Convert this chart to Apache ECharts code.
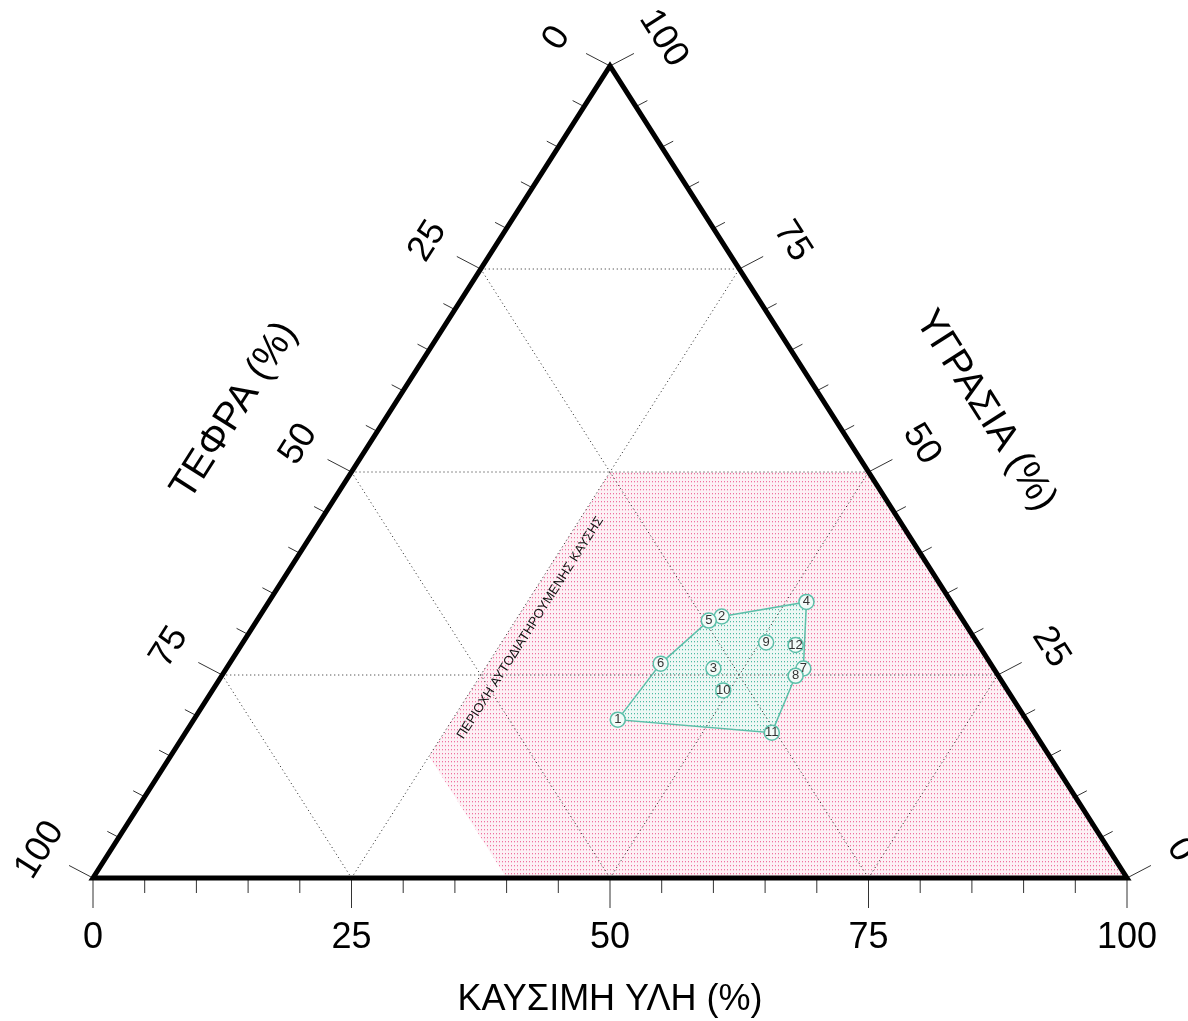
<!DOCTYPE html>
<html>
<head>
<meta charset="utf-8">
<title>Τριγωνικό διάγραμμα</title>
<script src="https://cdn.jsdelivr.net/npm/echarts@6/dist/echarts.min.js"></script>
<style>
  html, body { margin: 0; padding: 0; background: #fff; }
  #chart { width: 1188px; height: 1021px; }
</style>
</head>
<body>
<div id="chart"></div>
<script>
// ticks on every side, every 5 %
var tickValues = [0, 5, 10, 15, 20, 25, 30, 35, 40, 45, 50, 55, 60, 65, 70, 75, 80, 85, 90, 95, 100];
var labelValues = [0, 25, 50, 75, 100];
var gridValues = [25, 50, 75];

// samples (%) : καύσιμη ύλη, τέφρα, υγρασία
var sampleNo = [1, 2, 3, 4, 5, 6, 7, 8, 9, 10, 11, 12];
var kaysimi = [41.0, 44.7, 47.1, 52.0, 43.7, 41.7, 55.8, 55.5, 50.6, 49.4, 56.7, 53.6];
var tefra   = [39.5, 23.1, 27.1, 14.0, 24.6, 31.9, 18.4, 19.6, 20.4, 27.5, 25.4, 17.7];
var ygrasia = [19.5, 32.2, 25.8, 34.0, 31.7, 26.4, 25.8, 24.9, 29.0, 23.1, 17.9, 28.7];
var hullOrder = [1, 6, 5, 2, 4, 7, 8, 11];

// περιοχή αυτοδιατηρούμενης καύσης (K > 25, T < 60, Y < 50)
var regionK = [25, 50, 100, 40, 25];
var regionY = [50, 50, 0, 0, 15];
var regionLabelK = 26.9;
var regionLabelY = 30.8;

var FONT = '"Liberation Sans", Arial, sans-serif';
var ROT = 57.5 * Math.PI / 180;
// outward directions of the three sides (bottom, left, right)
var DIRS = [[0, 1], [-0.886, -0.464], [0.886, -0.464]];

function toXY(k, y) {
  return [k + y / 2, y];
}

// point on a side for a value of that side's own scale
function sidePoint(side, v) {
  if (side === 0) return toXY(v, 0);          // καύσιμη ύλη
  if (side === 1) return toXY(0, 100 - v);    // τέφρα
  return toXY(100 - v, v);                    // υγρασία
}

// small dot pattern, 3x4 px, on a tinted background
function dotPattern(dot, halo, bg) {
  var c = document.createElement('canvas');
  c.width = 3; c.height = 4;
  var ctx = c.getContext('2d');
  ctx.fillStyle = bg; ctx.fillRect(0, 0, 3, 4);
  ctx.fillStyle = dot; ctx.fillRect(1, 1, 1, 1);
  ctx.fillStyle = halo; ctx.fillRect(1, 2, 1, 1);
  return { image: c, repeat: 'repeat' };
}

var pinkFill = dotPattern('#f0709f', '#f8c8d9', '#fdf1f5');
var greenFill = dotPattern('#4fb9a2', '#bfe6dc', '#eef8f5');

// grid lines: [family, value]
var gridItems = [];
gridValues.forEach(function (v) {
  gridItems.push([0, v], [1, v], [2, v]);
});

var tickItems = [];
[0, 1, 2].forEach(function (s) {
  tickValues.forEach(function (v) { tickItems.push([s, v]); });
});

var labelItems = [];
[0, 1, 2].forEach(function (s) {
  labelValues.forEach(function (v) { labelItems.push([s, v]); });
});

var scatterData = sampleNo.map(function (n, i) {
  var p = toXY(kaysimi[i], ygrasia[i]);
  return [p[0], p[1], n];
});

var chart = echarts.init(document.getElementById('chart'));

chart.setOption({
  animation: false,
  backgroundColor: '#fff',
  grid: { left: 93, top: 66, width: 1034, height: 812 },
  xAxis: { type: 'value', min: 0, max: 100, show: false },
  yAxis: { type: 'value', min: 0, max: 100, show: false },
  series: [
    {
      // pink region
      type: 'custom', z: 1, silent: true,
      data: [[0]],
      renderItem: function (params, api) {
        var pts = regionK.map(function (k, i) { return api.coord(toXY(k, regionY[i])); });
        return { type: 'polygon', shape: { points: pts }, style: { fill: pinkFill, stroke: null } };
      }
    },
    {
      // sample hull
      type: 'custom', z: 2, silent: true,
      data: [[0]],
      renderItem: function (params, api) {
        var pts = hullOrder.map(function (n) {
          var i = sampleNo.indexOf(n);
          return api.coord(toXY(kaysimi[i], ygrasia[i]));
        });
        return { type: 'polygon', shape: { points: pts }, style: { fill: greenFill, stroke: '#5cbfa9', lineWidth: 1.5 } };
      }
    },
    {
      // dotted grid
      type: 'custom', z: 3, silent: true,
      data: gridItems,
      renderItem: function (params, api) {
        var f = api.value(0), v = api.value(1), a, b;
        if (f === 0) { a = toXY(0, v); b = toXY(100 - v, v); }
        else if (f === 1) { a = toXY(v, 0); b = toXY(v, 100 - v); }
        else { a = toXY(0, 100 - v); b = toXY(100 - v, 0); }
        var p1 = api.coord(a), p2 = api.coord(b);
        return {
          type: 'line',
          shape: { x1: p1[0], y1: p1[1], x2: p2[0], y2: p2[1] },
          style: { stroke: '#222', lineWidth: 1, lineDash: [1, 3] }
        };
      }
    },
    {
      // region label
      type: 'custom', z: 4, silent: true,
      data: [[0]],
      renderItem: function (params, api) {
        var p = api.coord(toXY(regionLabelK, regionLabelY));
        return {
          type: 'text', x: p[0], y: p[1], rotation: ROT,
          style: { text: 'ΠΕΡΙΟΧΗ ΑΥΤΟΔΙΑΤΗΡΟΥΜΕΝΗΣ ΚΑΥΣΗΣ', fontSize: 13, fontFamily: FONT, fill: '#111', align: 'center', verticalAlign: 'middle' }
        };
      }
    },
    {
      // ticks
      type: 'custom', z: 5, silent: true,
      data: tickItems,
      renderItem: function (params, api) {
        var s = api.value(0), v = api.value(1);
        var p = api.coord(sidePoint(s, v));
        var major = v % 25 === 0;
        var len = s === 0 ? (major ? 30 : 15) : (major ? 27 : 13);
        var d = DIRS[s];
        return {
          type: 'line',
          shape: { x1: p[0], y1: p[1], x2: p[0] + d[0] * len, y2: p[1] + d[1] * len },
          style: { stroke: '#333', lineWidth: 1 }
        };
      }
    },
    {
      // triangle frame
      type: 'custom', z: 6, silent: true,
      data: [[0]],
      renderItem: function (params, api) {
        var pts = [api.coord(toXY(0, 0)), api.coord(toXY(100, 0)), api.coord(toXY(0, 100))];
        return { type: 'polygon', shape: { points: pts }, style: { fill: null, stroke: '#000', lineWidth: 5, lineJoin: 'miter' } };
      }
    },
    {
      // tick labels
      type: 'custom', z: 6, silent: true,
      data: labelItems,
      renderItem: function (params, api) {
        var s = api.value(0), v = api.value(1);
        var p = api.coord(sidePoint(s, v));
        var d = DIRS[s], dist = 60;
        return {
          type: 'text', x: p[0] + d[0] * dist, y: p[1] + d[1] * dist,
          rotation: s === 0 ? 0 : (s === 1 ? ROT : -ROT),
          style: { text: String(v), fontSize: 36, fontFamily: FONT, fill: '#000', align: 'center', verticalAlign: 'middle' }
        };
      }
    },
    {
      // axis titles
      type: 'custom', z: 6, silent: true,
      data: [[0], [1], [2]],
      renderItem: function (params, api) {
        var s = api.value(0);
        var names = ['ΚΑΥΣΙΜΗ ΥΛΗ (%)', 'ΤΕΦΡΑ (%)', 'ΥΓΡΑΣΙΑ (%)'];
        var p = api.coord(sidePoint(s, 50));
        var d = DIRS[s], dist = s === 0 ? 122 : 132;
        return {
          type: 'text', x: p[0] + d[0] * dist, y: p[1] + d[1] * dist,
          rotation: s === 0 ? 0 : (s === 1 ? ROT : -ROT),
          style: { text: names[s], fontSize: s === 0 ? 36 : 39, fontFamily: FONT, fill: '#000', align: 'center', verticalAlign: 'middle' }
        };
      }
    },
    {
      type: 'scatter', z: 7,
      data: scatterData,
      symbol: 'circle',
      symbolSize: 15,
      itemStyle: { color: '#f3fbf8', borderColor: '#5cbfa9', borderWidth: 1.5, opacity: 1 },
      label: {
        show: true, position: 'inside', fontSize: 13, fontFamily: FONT, color: '#333',
        formatter: function (p) { return p.data[2]; }
      }
    }
  ]
});
</script>
</body>
</html>
